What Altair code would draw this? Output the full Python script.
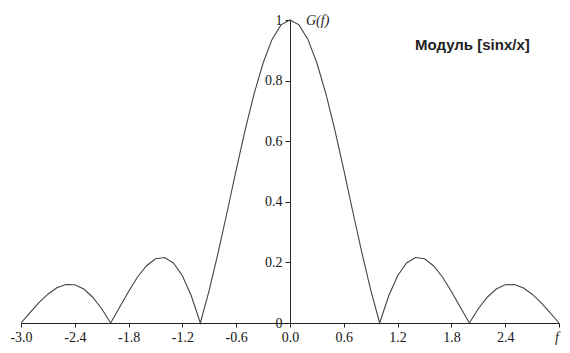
import altair as alt
import pandas as pd

f_vals = [-3.0, -2.9, -2.8, -2.7, -2.6, -2.5, -2.4, -2.3, -2.2, -2.1,
          -2.0, -1.9, -1.8, -1.7, -1.6, -1.5, -1.4, -1.3, -1.2, -1.1,
          -1.0, -0.9, -0.8, -0.7, -0.6, -0.5, -0.4, -0.3, -0.2, -0.1,
          0.0, 0.1, 0.2, 0.3, 0.4, 0.5, 0.6, 0.7, 0.8, 0.9,
          1.0, 1.1, 1.2, 1.3, 1.4, 1.5, 1.6, 1.7, 1.8, 1.9,
          2.0, 2.1, 2.2, 2.3, 2.4, 2.5, 2.6, 2.7, 2.8, 2.9, 3.0]
g_vals = [0.0, 0.034, 0.067, 0.095, 0.116, 0.127, 0.126, 0.112, 0.085, 0.047,
          0.0, 0.052, 0.104, 0.152, 0.189, 0.212, 0.216, 0.198, 0.156, 0.089,
          0.0, 0.109, 0.234, 0.368, 0.505, 0.637, 0.757, 0.858, 0.936, 0.984,
          1.0, 0.984, 0.936, 0.858, 0.757, 0.637, 0.505, 0.368, 0.234, 0.109,
          0.0, 0.089, 0.156, 0.198, 0.216, 0.212, 0.189, 0.152, 0.104, 0.052,
          0.0, 0.047, 0.085, 0.112, 0.126, 0.127, 0.116, 0.095, 0.067, 0.034, 0.0]
x_ticks = [-3.0, -2.4, -1.8, -1.2, -0.6, 0.0, 0.6, 1.2, 1.8, 2.4, 3.0]
y_ticks = [0, 0.2, 0.4, 0.6, 0.8, 1.0]
title_text = "Модуль [sinx/x]"
y_name = "G(f)"
x_name = "f"

df = pd.DataFrame({"f": f_vals, "g": g_vals})

W, H = 538, 303
serif = "Liberation Serif"

x_enc = alt.X("f:Q", scale=alt.Scale(domain=[-3, 3], nice=False, zero=False),
              axis=alt.Axis(values=x_ticks, title=None, grid=False,
                            labelExpr="datum.value >= 2.99 ? '' : (datum.value < 0 ? '-' + format(abs(datum.value), '.1f') : format(datum.value, '.1f'))",
                            labelPadding=3, labelFlush=False, tickSize=4,
                            labelFont=serif, labelFontSize=14))
y_enc = alt.Y("g:Q", scale=alt.Scale(domain=[0, 1], nice=False),
              axis=alt.Axis(values=y_ticks, title=None, grid=False, offset=-W / 2,
                            format="~g", labelPadding=3, tickSize=5,
                            labelFont=serif, labelFontSize=14))

line = alt.Chart(df).mark_line(color="#444", strokeWidth=1.1).encode(x=x_enc, y=y_enc)

title = alt.Chart(pd.DataFrame({"t": [title_text]})).mark_text(
    font="Liberation Sans", fontSize=15, fontWeight="bold", align="left", baseline="middle", color="#222"
).encode(x=alt.value(394), y=alt.value(25), text="t:N")

gname = alt.Chart(pd.DataFrame({"t": [y_name]})).mark_text(
    font=serif, fontSize=14, fontStyle="italic", align="left", baseline="middle", color="#222"
).encode(x=alt.value(285), y=alt.value(1), text="t:N")

fname = alt.Chart(pd.DataFrame({"t": [x_name]})).mark_text(
    font=serif, fontSize=14, fontStyle="italic", align="center", baseline="middle", color="#222"
).encode(x=alt.value(536), y=alt.value(318), text="t:N")

chart = alt.layer(line, title, gname, fname).properties(
    width=W, height=H,
    autosize=alt.AutoSizeParams(type="none"),
    padding={"left": 13, "top": 12, "right": 3, "bottom": 22},
    background="white",
).configure_view(stroke=None).configure_axis(
    labelFont=serif, labelFontSize=14, labelColor="#151515",
    domainColor="#222", tickColor="#222",
)

chart.save("out.html", embed_options={"renderer": "svg", "actions": False})
